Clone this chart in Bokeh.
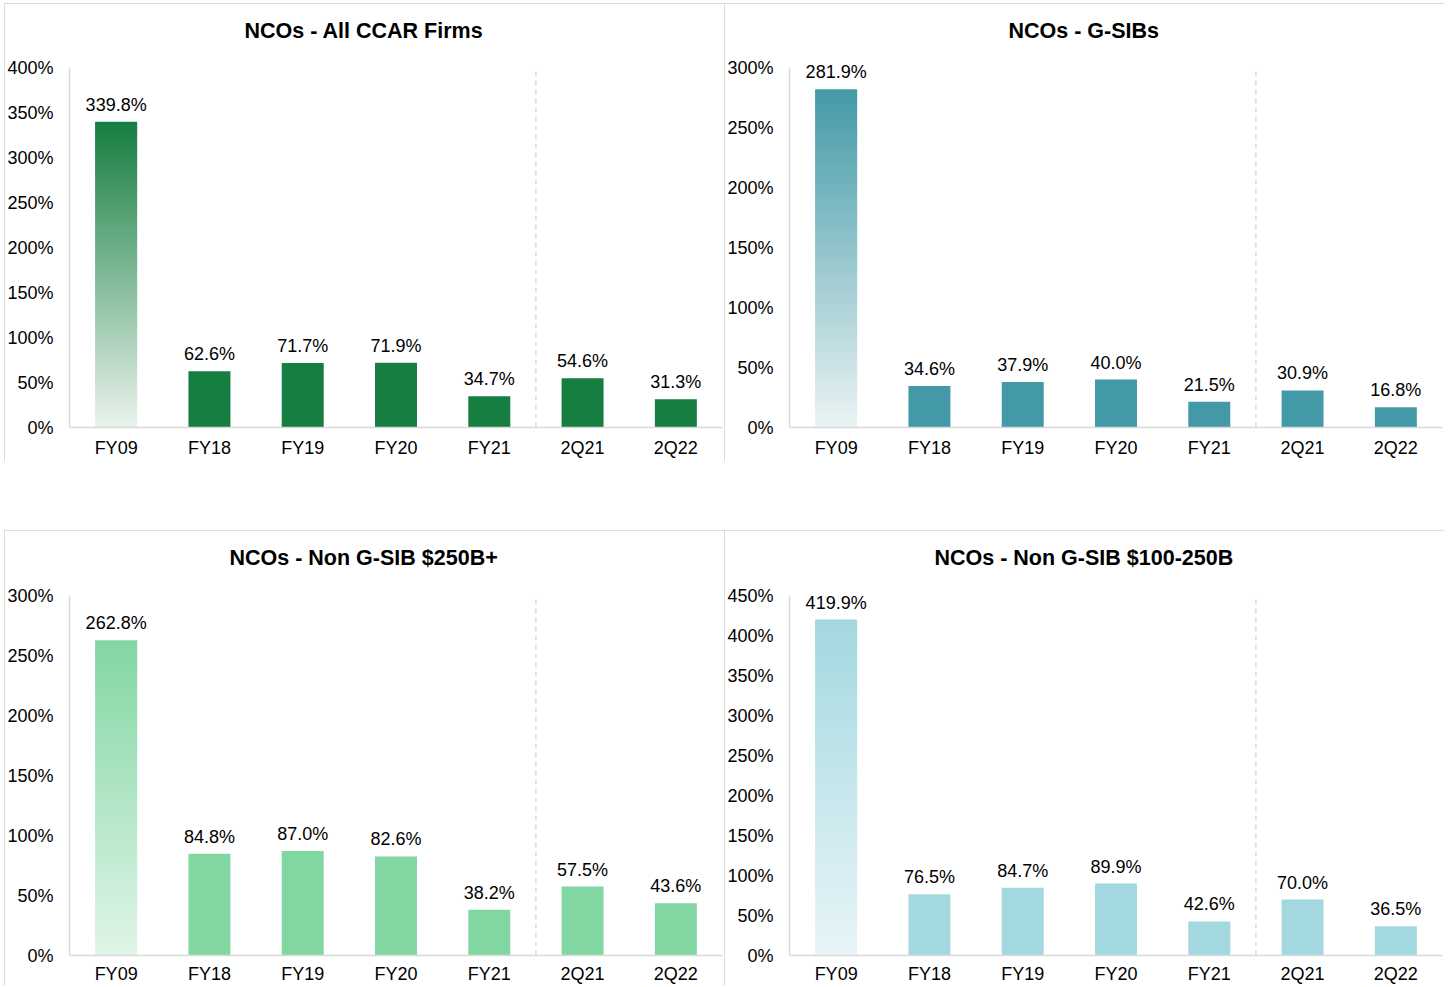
from bokeh.plotting import figure
from bokeh.models import (ColumnDataSource, Range1d, FixedTicker, PrintfTickFormatter, Spacer)
from bokeh.layouts import column, row
from bokeh.core.properties import value
from bokeh.embed import file_html
from bokeh.resources import INLINE

# ---------------- data ----------------
categories = ["FY09", "FY18", "FY19", "FY20", "FY21", "2Q21", "2Q22"]
all_ccar = [339.8, 62.6, 71.7, 71.9, 34.7, 54.6, 31.3]
gsibs = [281.9, 34.6, 37.9, 40.0, 21.5, 30.9, 16.8]
non_gsib_250 = [262.8, 84.8, 87.0, 82.6, 38.2, 57.5, 43.6]
non_gsib_100_250 = [419.9, 76.5, 84.7, 89.9, 42.6, 70.0, 36.5]

titles = ["NCOs - All CCAR Firms", "NCOs - G-SIBs",
          "NCOs - Non G-SIB $250B+", "NCOs - Non G-SIB $100-250B"]
y_max = [400, 300, 300, 450]
divider_after = "FY21"

FONT = "Liberation Sans"
TXT = "#000000"
AXIS = "#d9d9d9"
FRAME_TOP = 52


def hex2rgb(h):
    h = h.lstrip("#")
    return tuple(int(h[i:i + 2], 16) for i in (0, 2, 4))


def mix(c1, c2, t):
    a, b = hex2rgb(c1), hex2rgb(c2)
    return "#%02x%02x%02x" % tuple(round(a[i] + (b[i] - a[i]) * t) for i in range(3))


def panel(title, vals, ymax, color, light, width, height, ymax_pos, bottom_border,
          x_standoff, title_offset):
    frame_h = height - FRAME_TOP - bottom_border
    extra = ymax_pos - FRAME_TOP          # headroom (px) above the top tick for labels
    y_end = ymax * frame_h / (frame_h - extra)
    p = figure(x_range=categories, y_range=Range1d(0, y_end), width=width, height=height,
               output_backend="svg", toolbar_location=None, tools="",
               min_border_left=65, min_border_right=2, min_border_top=FRAME_TOP,
               min_border_bottom=bottom_border,
               styles={"outline": "1.5px solid #d0d0d0", "outline-offset": "-1px"})
    p.outline_line_color = None
    p.xgrid.grid_line_color = None
    p.ygrid.grid_line_color = None

    p.title.text = title
    p.title.align = "left"
    p.title.offset = title_offset
    p.title.vertical_align = "bottom"
    p.title.text_font = FONT
    p.title.text_font_size = "21.5px"
    p.title.text_font_style = "bold"
    p.title.text_color = TXT
    p.title.standoff = 26

    # gradient first bar, solid others
    first = categories[0]
    v0 = vals[0]
    n = 90
    xs, bots, tops, cols = [], [], [], []
    for i in range(n):
        xs.append(first)
        bots.append(v0 * i / n)
        tops.append(min(v0, v0 * (i + 1.6) / n))
        cols.append(mix(light, color, (i + 0.5) / n))
    p.vbar(x="x", bottom="b", top="t", width=0.45, fill_color="c", line_color=None,
           source=ColumnDataSource(dict(x=xs, b=bots, t=tops, c=cols)))
    p.vbar(x=categories[1:], top=vals[1:], width=0.45, fill_color=color, line_color=None)

    labels = ["%.1f%%" % v for v in vals]
    p.text(x=categories, y=vals, text=labels, text_align="center", text_baseline="bottom",
           y_offset=-7, text_font=value(FONT), text_font_size="18px", text_color=TXT)

    # dashed divider between annual and quarterly periods (category boundary)
    idx = categories.index(divider_after) + 1
    p.segment(x0=[idx], y0=[0], x1=[idx], y1=[ymax], line_color="#c8c8c8",
              line_dash="5 4", line_width=1)

    p.yaxis.ticker = FixedTicker(ticks=list(range(0, ymax + 1, 50)))
    p.yaxis.formatter = PrintfTickFormatter(format="%d%%")
    p.yaxis.bounds = (0, ymax)
    for ax in (p.xaxis[0], p.yaxis[0]):
        ax.axis_line_color = AXIS
        ax.axis_line_width = 1.5
        ax.major_tick_line_color = None
        ax.minor_tick_line_color = None
        ax.major_tick_out = 0
        ax.major_tick_in = 0
        ax.minor_tick_out = 0
        ax.major_label_text_font = FONT
        ax.major_label_text_font_size = "18px"
        ax.major_label_text_color = TXT
    p.yaxis.major_label_standoff = 16
    p.xaxis.major_label_standoff = x_standoff
    return p


W = 720
p1 = panel(titles[0], all_ccar, y_max[0], "#167e40", "#eaf3ed", W, 458, 64, 34, 10, 175)
p2 = panel(titles[1], gsibs, y_max[1], "#4399a7", "#eaf4f4", W, 458, 64, 34, 10, 219)
p3 = panel(titles[2], non_gsib_250, y_max[2], "#82d6a2", "#e0f5e8", W, 456, 65, 31, 8, 160)
p4 = panel(titles[3], non_gsib_100_250, y_max[3], "#a3d8e0", "#e8f5f8", W, 456, 65, 31, 8, 145)

layout = column(
    Spacer(height=3),
    row(Spacer(width=4), p1, p2, spacing=0),
    Spacer(height=69),
    row(Spacer(width=4), p3, p4, spacing=0),
    spacing=0,
)

open("out.html", "w").write(file_html(layout, INLINE))
